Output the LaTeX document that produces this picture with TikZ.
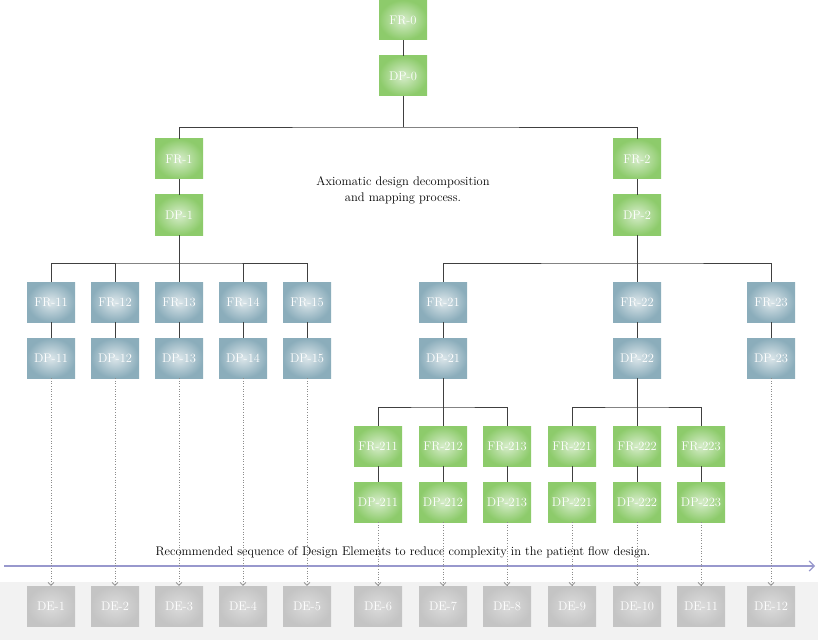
\documentclass[tikz,border=0pt]{standalone}
\usetikzlibrary{arrows.meta}
\begin{document}
\definecolor{gr}{HTML}{8DCB6B}
\definecolor{bl}{HTML}{8BADBB}
\definecolor{dg}{HTML}{C4C4C4}
\begin{tikzpicture}[x=1pt,y=-1pt,
 box/.style={minimum width=48pt,minimum height=40pt,inner sep=0,text=white,font=\fontsize{12.5}{14}\selectfont},
 g/.style={box,inner color=gr!35!white,outer color=gr},
 b/.style={box,inner color=bl!30!white,outer color=bl},
 d/.style={box,inner color=dg!60!white,outer color=dg},
 tr/.style={draw=black!75,line width=0.6pt},
 dl/.style={draw=black!45,dotted,line width=0.6pt,-{Straight Barb[length=3pt,width=6pt]}}]
\useasboundingbox (0,0) rectangle (818,644);
\fill[black!5] (0,582) rectangle (818,640);
\node[g] (fr0) at (403,20) {FR-0};
\node[g] (dp0) at (403,76) {DP-0};
\node[g] (fr1) at (179,159) {FR-1};
\node[g] (dp1) at (179,215) {DP-1};
\node[g] (fr2) at (637,159) {FR-2};
\node[g] (dp2) at (637,215) {DP-2};
\foreach \n/\x in {11/51,12/115,13/179,14/243,15/307}{
 \node[b] (fr\n) at (\x,302) {FR-\n};
 \node[b] (dp\n) at (\x,358) {DP-\n};
 \draw[tr] (fr\n)--(dp\n);}
\foreach \n/\x in {21/443,22/637,23/771}{
 \node[b] (fr\n) at (\x,302) {FR-\n};
 \node[b] (dp\n) at (\x,358) {DP-\n};
 \draw[tr] (fr\n)--(dp\n);}
\foreach \n/\x in {211/378,212/443,213/507,221/572,222/637,223/701}{
 \node[g] (fr\n) at (\x,446) {FR-\n};
 \node[g] (dp\n) at (\x,502) {DP-\n};
 \draw[tr] (fr\n)--(dp\n);}
\draw[tr] (fr0)--(dp0); \draw[tr] (fr1)--(dp1); \draw[tr] (fr2)--(dp2);
\draw[tr] (dp0.south)--(403,127); \draw[tr] (fr1.north)|-(403,127)-|(fr2.north);
\draw[tr] (dp1.south)--(179,263); \draw[tr] (fr11.north)|-(179,263)-|(fr15.north);
\foreach \n in {12,13,14}{\draw[tr] (fr\n.north)--++(0,-19);}
\draw[tr] (dp2.south)--(637,263); \draw[tr] (fr21.north)|-(637,263)-|(fr23.north);
\draw[tr] (fr22.north)--++(0,-19);
\draw[tr] (dp21.south)--(443,407); \draw[tr] (fr211.north)|-(443,407)-|(fr213.north);
\draw[tr] (fr212.north)--++(0,-19);
\draw[tr] (dp22.south)--(637,407); \draw[tr] (fr221.north)|-(637,407)-|(fr223.north);
\draw[tr] (fr222.north)--++(0,-19);
\node[align=center,font=\fontsize{12.5}{16}\selectfont] (t1) at (403,190) {Axiomatic design decomposition\\and mapping process.};
\coordinate (a0) at (4,566); \coordinate (a1) at (815,566);
\draw[draw=blue!35!gray!60,line width=1.2pt,-{Straight Barb[length=5pt,width=10pt]}] (a0)--(a1);
\node[font=\fontsize{12.5}{14}\selectfont] (t2) at (403,552) {Recommended sequence of Design Elements to reduce complexity in the patient flow design.};
\foreach \i/\s/\x in {1/11/51,2/12/115,3/13/179,4/14/243,5/15/307,6/211/378,7/212/443,8/213/507,9/221/572,10/222/637,11/223/701,12/23/771}{
 \node[d] (de\i) at (\x,606) {DE-\i};
 \draw[dl] (dp\s.south)--(de\i.north);}
\end{tikzpicture}
\end{document}
